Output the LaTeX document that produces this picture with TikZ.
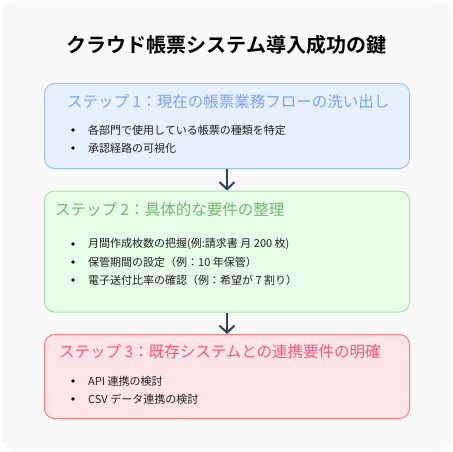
\documentclass[tikz,border=0pt]{standalone}
\usepackage{fontspec}
\setmainfont{Noto Sans CJK JP}[BoldFont={Noto Sans CJK JP Bold}]
\usetikzlibrary{arrows.meta}

\definecolor{bgcol}{HTML}{F9F9F9}
\definecolor{bluefill}{HTML}{E6F0FF}
\definecolor{blueline}{HTML}{9CC0FF}
\definecolor{bluetext}{HTML}{78A4FA}
\definecolor{greenfill}{HTML}{E6FFE6}
\definecolor{greenline}{HTML}{A4E4A4}
\definecolor{greentext}{HTML}{76B476}
\definecolor{redfill}{HTML}{FFE5E7}
\definecolor{redline}{HTML}{FF7C7C}
\definecolor{redtext}{HTML}{FF5580}
\definecolor{arrowcol}{HTML}{34425E}
\definecolor{itemcol}{HTML}{222222}

\tikzset{
  stepbox/.style={draw=#1line, fill=#1fill, line width=1pt, rounded corners=10pt,
    anchor=north west, inner sep=0pt, minimum width=365pt},
  steptitle/.style={anchor=west, inner sep=0pt, text=#1text,
    font=\fontsize{15.5}{18}\selectfont},
  itemtext/.style={anchor=west, inner sep=0pt, text=itemcol,
    font=\fontsize{11}{13}\selectfont},
  itemdot/.style={circle, fill=black, inner sep=0pt, minimum size=3.6pt},
  flow/.style={draw=arrowcol, line width=2pt, -{Straight Barb[length=7pt,width=15pt]}},
}

\begin{document}
\begin{tikzpicture}[x=1pt, y=-1pt]
\useasboundingbox (0,0) rectangle (453,452);
\fill[bgcol, rounded corners=15pt] (1,1) rectangle (452,451);

\node (title) at (226.5,45) {\fontsize{20}{24}\selectfont\bfseries クラウド帳票システム導入成功の鍵};

% step boxes
\node[stepbox=blue, minimum height=85pt] (box1) at (44,83) {};
\node[stepbox=green, minimum height=121pt] (box2) at (44,190.5) {};
\node[stepbox=red, minimum height=84pt] (box3) at (44,334) {};

\draw[flow] (box1.south) -- (box2.north);
\draw[flow] (box2.south) -- (box3.north);

% titles
\node[steptitle=blue] (t1) at (67,102) {ステップ 1：現在の帳票業務フローの洗い出し};
\node[steptitle=green] (t2) at (55,210) {ステップ 2：具体的な要件の整理};
\node[steptitle=red] (t3) at (59,352) {ステップ 3：既存システムとの連携要件の明確};

% bullet items
\foreach \y/\t in {130/各部門で使用している帳票の種類を特定, 148/承認経路の可視化,
    244/月間作成枚数の把握(例:請求書 月 200 枚), 262/保管期間の設定（例：10 年保管）,
    280/電子送付比率の確認（例：希望が 7 割り）,
    381/API 連携の検討, 399/CSV データ連携の検討} {
  \node[itemdot] (d\y) at (73,\y) {};
  \node[itemtext] (i\y) at (88,\y) {\t};
}
\end{tikzpicture}
\end{document}
